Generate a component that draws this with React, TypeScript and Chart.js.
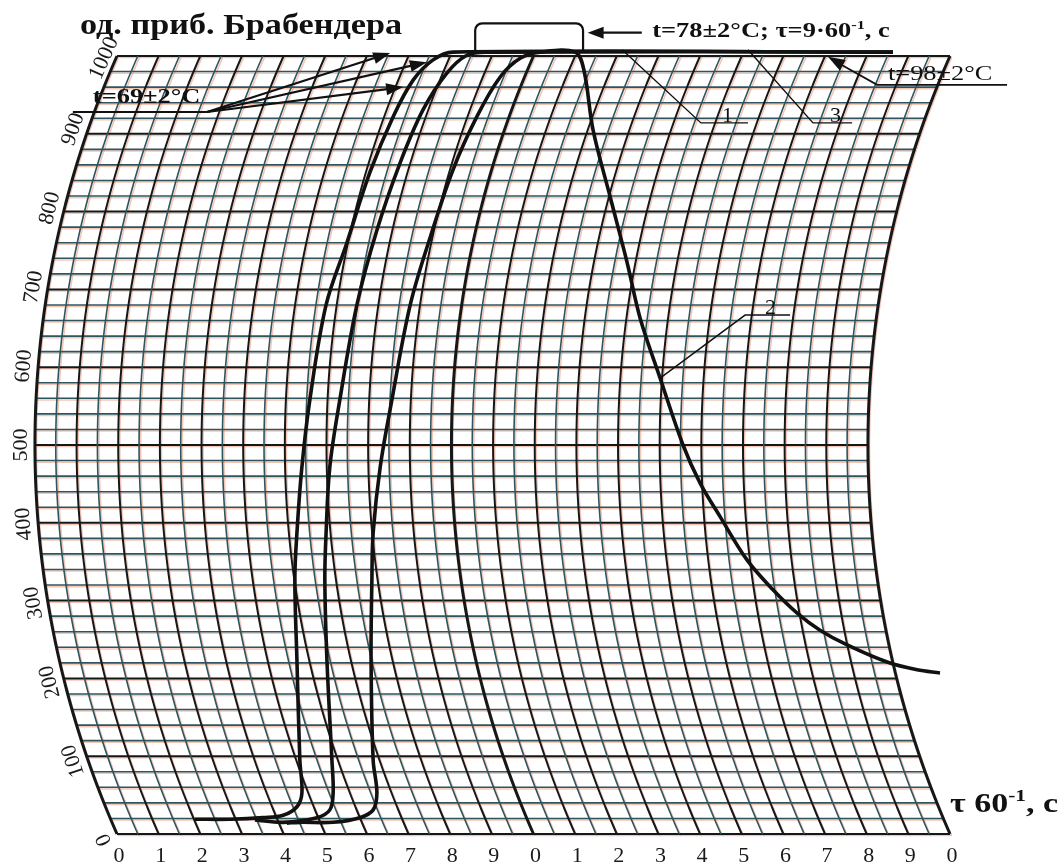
import React, { useEffect, useRef } from 'react';
import { Chart, registerables } from 'chart.js';

Chart.register(...registerables);

// Time scale (minutes) and Brabender units
const minuteTicks = [0, 1, 2, 3, 4, 5, 6, 7, 8, 9, 10, 11, 12, 13, 14, 15, 16, 17, 18, 19, 20];
const minuteLabels = ['0', '1', '2', '3', '4', '5', '6', '7', '8', '9', '0', '1', '2', '3', '4', '5', '6', '7', '8', '9', '0'];
const buTicks = [0, 100, 200, 300, 400, 500, 600, 700, 800, 900, 1000];

// Curve 1: gelatinisation rise, then held at the top of the scale
const curve1Min = [1.87, 2.71, 3.51, 3.99, 4.32, 4.44, 4.39, 4.32, 4.27, 4.32, 4.44, 4.63, 5.02, 5.52, 6.07, 6.63, 7.11, 7.59, 8.07, 18.63];
const curve1BU = [19, 19, 21, 24, 35, 53, 95, 224, 327, 387, 472, 558, 680, 760, 850, 922, 969, 995, 1005, 1005];

// Curve 3: second rise, held at the top of the scale
const curve3Min = [3.31, 3.99, 4.8, 5.11, 5.19, 5.16, 5.04, 4.99, 5.02, 5.11, 5.35, 5.76, 6.24, 6.8, 7.35, 7.92, 8.4, 8.88, 18.63];
const curve3BU = [18, 15, 21, 31, 53, 95, 224, 327, 387, 472, 558, 680, 776, 863, 931, 978, 1001, 1005, 1005];

// Curve 2: rise, short hold, then viscosity breakdown
const curve2Min = [4.08, 4.39, 5.19, 5.83, 6.15, 6.24, 6.15, 6.1, 6.12, 6.15, 6.32, 6.6, 7.04, 7.52, 8.07, 8.64, 9.2, 9.68, 10.16, 11.0, 11.21, 11.43, 11.84, 12.25, 12.56, 13.04, 13.59, 14.0, 14.48, 15.13, 15.75, 16.33, 16.88, 17.53, 18.49, 19.21, 19.76];
const curve2BU = [14, 15, 15, 21, 31, 53, 95, 224, 327, 387, 472, 558, 680, 767, 854, 922, 973, 997, 1005, 1005, 982, 905, 819, 734, 663, 586, 500, 451, 408, 352, 314, 284, 262, 243, 221, 211, 207];

// Pen-arc bulge of the recorder paper, in minutes at mid-scale
const ARC_BULGE_MIN = 1.97;

const SERIF = '"Liberation Serif", "Times New Roman", serif';
const INK = '#111';

function toPoints(mins: number[], bus: number[]) {
  return mins.map((m, i) => ({ x: m, y: bus[i] }));
}

function geometry(chart: any) {
  const { x, y } = chart.scales;
  const yTop = y.getPixelForValue(1000);
  const yBot = y.getPixelForValue(0);
  const cy = (yTop + yBot) / 2;
  const h = (yBot - yTop) / 2;
  const s = ARC_BULGE_MIN * (x.getPixelForValue(1) - x.getPixelForValue(0));
  const R = (h * h + s * s) / (2 * s);
  const arcX = (t: number, py: number) => x.getPixelForValue(t) - s + (R - Math.sqrt(R * R - (py - cy) * (py - cy)));
  return { x, y, yTop, yBot, cy, R, s, arcX };
}

function arrowHead(ctx: CanvasRenderingContext2D, fx: number, fy: number, tx: number, ty: number, len = 15, wid = 5) {
  const a = Math.atan2(ty - fy, tx - fx);
  ctx.beginPath();
  ctx.moveTo(tx, ty);
  ctx.lineTo(tx - len * Math.cos(a) + wid * Math.sin(a), ty - len * Math.sin(a) - wid * Math.cos(a));
  ctx.lineTo(tx - len * Math.cos(a) - wid * Math.sin(a), ty - len * Math.sin(a) + wid * Math.cos(a));
  ctx.closePath();
  ctx.fill();
}

function polyline(ctx: CanvasRenderingContext2D, pts: number[][]) {
  ctx.beginPath();
  pts.forEach((p, i) => (i === 0 ? ctx.moveTo(p[0], p[1]) : ctx.lineTo(p[0], p[1])));
  ctx.stroke();
}

// Text with optional superscript pieces, stretched horizontally by hs
function richText(ctx: CanvasRenderingContext2D, parts: [string, boolean][], px: number, py: number, size: number, bold: boolean, hs = 1) {
  ctx.save();
  ctx.translate(px, py);
  ctx.scale(hs, 1);
  let cx = 0;
  ctx.textBaseline = 'middle';
  ctx.textAlign = 'left';
  for (const [str, sup] of parts) {
    const sz = sup ? Math.round(size * 0.62) : size;
    ctx.font = `${bold ? 'bold ' : ''}${sz}px ${SERIF}`;
    ctx.fillText(str, cx, sup ? -size * 0.32 : 0);
    cx += ctx.measureText(str).width;
  }
  ctx.restore();
}

const paperPlugin = {
  id: 'brabenderPaper',
  beforeDatasetsDraw(chart: any) {
    const ctx: CanvasRenderingContext2D = chart.ctx;
    const g = geometry(chart);
    const lines: { pts: number[][]; major: boolean; heavy: boolean }[] = [];
    for (let bu = 0; bu <= 1000; bu += 20) {
      const py = g.y.getPixelForValue(bu);
      lines.push({ pts: [[g.arcX(0, py), py], [g.arcX(20, py), py]], major: bu % 100 === 0, heavy: false });
    }
    for (let k = 0; k <= 40; k++) {
      const t = k / 2;
      const pts: number[][] = [];
      for (let py = g.yTop; py <= g.yBot + 0.01; py += 3) pts.push([g.arcX(t, py), py]);
      pts.push([g.arcX(t, g.yBot), g.yBot]);
      lines.push({ pts, major: k % 2 === 0, heavy: t === 0 || t === 10 || t === 20 });
    }
    ctx.save();
    ctx.lineCap = 'butt';
    // warm fringe of the printed ruling
    ctx.strokeStyle = 'rgba(236,140,110,0.5)';
    ctx.lineWidth = 1.5;
    for (const l of lines) {
      polyline(ctx, l.pts.map(p => [p[0] + 1.6, p[1] + 1.6]));
    }
    for (const l of lines) {
      ctx.strokeStyle = l.major ? '#141819' : '#2c555e';
      ctx.lineWidth = l.heavy ? 3 : l.major ? 2 : 1.6;
      polyline(ctx, l.pts);
    }

    // BU labels along the left arc
    ctx.fillStyle = '#1a1a1a';
    ctx.font = `22px ${SERIF}`;
    ctx.textAlign = 'center';
    ctx.textBaseline = 'middle';
    const cx = g.arcX(0, g.cy) + g.R;
    for (const bu of buTicks) {
      const py = g.y.getPixelForValue(bu);
      const px = g.arcX(0, py);
      const nx = (px - cx) / g.R;
      const ny = (py - g.cy) / g.R;
      const lx = px + nx * 14;
      const ly = py + ny * 14 + (bu === 1000 ? 8 : 0);
      ctx.save();
      ctx.translate(lx, ly);
      ctx.rotate(Math.atan2(nx, -ny));
      ctx.fillText(String(bu), 0, 0);
      ctx.restore();
    }
    // minute labels under the base line
    minuteTicks.forEach((m, i) => {
      ctx.fillText(minuteLabels[i], g.x.getPixelForValue(m) + 2, g.yBot + 22);
    });
    ctx.restore();
  },
  afterDatasetsDraw(chart: any) {
    const ctx: CanvasRenderingContext2D = chart.ctx;
    const { x, y } = chart.scales;
    const P = (t: number, bu: number) => [x.getPixelForValue(t), y.getPixelForValue(bu)];
    ctx.save();
    ctx.fillStyle = INK;
    ctx.strokeStyle = INK;

    // axis titles
    const [tx0, ty0] = P(-0.89, 1038);
    richText(ctx, [['од. приб. Брабендера', false]], tx0, ty0, 29, true, 1.18);
    const [ax0, ay0] = P(20.0, 37);
    richText(ctx, [['τ 60', false], ['-1', true], [', c', false]], ax0, ay0, 27, true, 1.26);

    // t = 69 °C with three arrows to the rising curves
    const [u0x, u0y] = P(-1.06, 928);
    const [u1x] = P(2.16, 928);
    ctx.lineWidth = 2.2;
    polyline(ctx, [[u0x, u0y], [u1x, u0y]]);
    const [l69x, l69y] = P(-0.58, 947);
    richText(ctx, [['t=69±2°C', false]], l69x, l69y, 22, true, 1.2);
    const tips = [P(6.56, 1004), P(7.44, 992), P(6.87, 960)];
    for (const [tx, ty] of tips) {
      const d = Math.hypot(tx - u1x, ty - u0y);
      polyline(ctx, [[u1x, u0y], [tx - (tx - u1x) * 10 / d, ty - (ty - u0y) * 10 / d]]);
      arrowHead(ctx, u1x, u0y, tx, ty, 17, 6);
    }

    // hold bracket at 78 °C
    const [bl, bb] = P(8.6, 1005);
    const [br, btp] = P(11.19, 1042);
    const r = 7;
    ctx.lineWidth = 2.2;
    ctx.beginPath();
    ctx.moveTo(bl, bb);
    ctx.lineTo(bl, btp + r);
    ctx.arcTo(bl, btp, bl + r, btp, r);
    ctx.lineTo(br - r, btp);
    ctx.arcTo(br, btp, br, btp + r, r);
    ctx.lineTo(br, bb);
    ctx.stroke();
    const [a0x, a0y] = P(12.6, 1030);
    const [a1x] = P(11.3, 1030);
    ctx.lineWidth = 2.2;
    polyline(ctx, [[a0x, a0y], [a1x + 10, a0y]]);
    arrowHead(ctx, a0x, a0y, a1x, a0y, 16, 6);
    const [t78x, t78y] = P(12.85, 1031);
    richText(ctx, [['t=78±2°C; τ=9·60', false], ['-1', true], [', c', false]], t78x, t78y, 21, true, 1.26);

    // t = 98 °C pointer
    const [p98x, p98y] = P(17.07, 999);
    const [e98x, e98y] = P(18.25, 963);
    const [f98x] = P(21.37, 963);
    ctx.lineWidth = 1.8;
    polyline(ctx, [[f98x, e98y], [e98x, e98y], [p98x + 8, p98y + 5]]);
    arrowHead(ctx, e98x, e98y, p98x, p98y, 17, 6);
    const [t98x, t98y] = P(18.51, 976);
    richText(ctx, [['t=98±2°C', false]], t98x, t98y, 22, false, 1.2);

    // curve number leaders
    ctx.lineWidth = 1.4;
    const leaders: [number, number, number, number, number, number, string][] = [
      [12.13, 1008, 14.02, 914, 15.15, 914, '1'],
      [13.04, 586, 15.08, 667, 16.16, 667, '2'],
      [15.15, 1008, 16.71, 914, 17.65, 914, '3'],
    ];
    for (const [sx, sy, mx, my, ex, ey, lab] of leaders) {
      const a = P(sx, sy), b = P(mx, my), c = P(ex, ey);
      polyline(ctx, [a, b, c]);
      ctx.font = `22px ${SERIF}`;
      ctx.textAlign = 'center';
      ctx.textBaseline = 'alphabetic';
      ctx.fillText(lab, (b[0] + c[0]) / 2 + 3, b[1] - 1);
    }
    ctx.restore();
  },
};

export default function App() {
  const canvasRef = useRef<HTMLCanvasElement>(null);
  useEffect(() => {
    const line = { borderColor: INK, borderWidth: 3.6, pointRadius: 0, tension: 0.35, clip: false as any, fill: false };
    const chart = new Chart(canvasRef.current as HTMLCanvasElement, {
      type: 'line',
      data: {
        datasets: [
          { label: '1', data: toPoints(curve1Min, curve1BU), ...line },
          { label: '3', data: toPoints(curve3Min, curve3BU), ...line },
          { label: '2', data: toPoints(curve2Min, curve2BU), ...line },
        ],
      },
      options: {
        responsive: false,
        devicePixelRatio: 1,
        animation: false,
        layout: { padding: { left: 117, right: 114, top: 56, bottom: 34 } },
        scales: {
          x: { type: 'linear', min: 0, max: 20, display: false },
          y: { type: 'linear', min: 0, max: 1000, display: false },
        },
        plugins: { legend: { display: false }, tooltip: { enabled: false } },
      },
      plugins: [paperPlugin],
    });
    return () => chart.destroy();
  }, []);
  return (
    <div style={{ position: 'fixed', left: 0, top: 0, width: 1064, height: 868, background: '#fff' }}>
      <canvas ref={canvasRef} width={1064} height={868} />
    </div>
  );
}
